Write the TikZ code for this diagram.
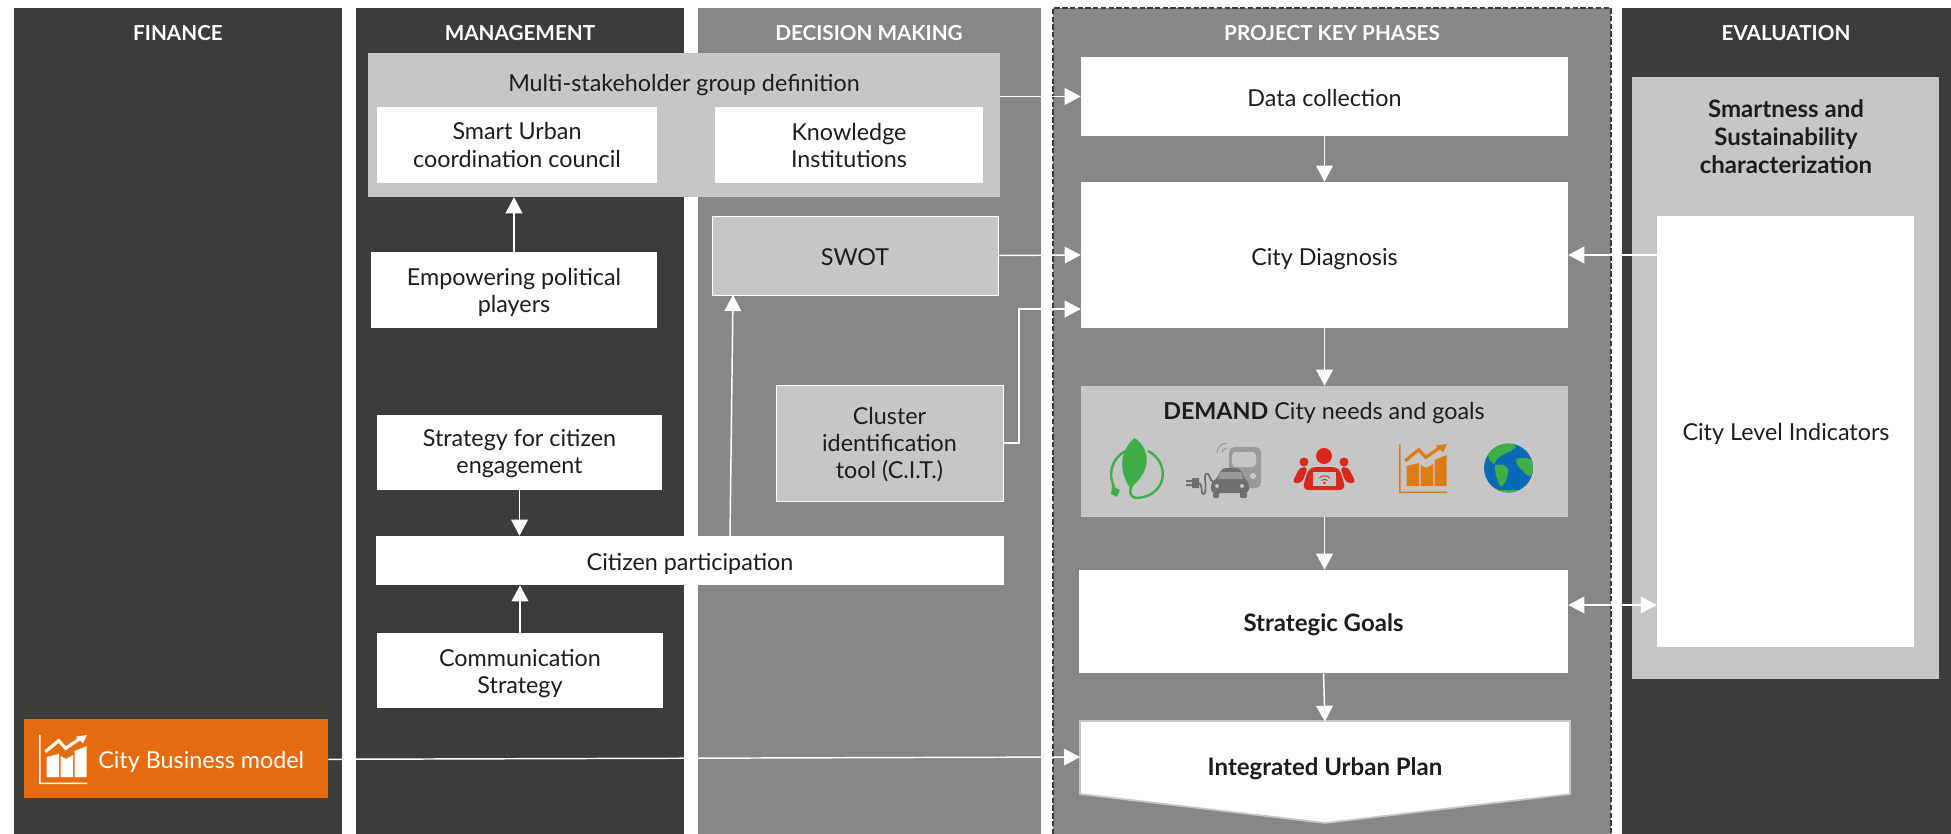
\documentclass[tikz,border=0pt]{standalone}
\usepackage{fontspec}
\setmainfont{Lato}
\usetikzlibrary{arrows.meta,calc}
\definecolor{darkpanel}{HTML}{3C3C3B}
\definecolor{midpanel}{HTML}{878787}
\definecolor{lightpanel}{HTML}{C6C6C6}
\definecolor{bizorange}{HTML}{E56C0E}
\definecolor{inktext}{HTML}{1D1D1B}
\definecolor{leafgreen}{HTML}{3FAE49}
\definecolor{evlight}{HTML}{9A9A9A}
\definecolor{evdark}{HTML}{6F6F6F}
\definecolor{peoplered}{HTML}{D9291C}
\definecolor{chartorange}{HTML}{DD7C14}
\definecolor{globeblue}{HTML}{0A6AB5}
\tikzset{
  bodytext/.style={font=\fontsize{17.5}{20.4}\selectfont,text=inktext,align=center,inner sep=0pt},
  boldtext/.style={bodytext,font=\fontsize{18}{21}\selectfont\bfseries},
  headtext/.style={font=\fontsize{15.5}{18}\selectfont\bfseries,text=white,inner sep=0pt},
  whitebox/.style={fill=white,inner sep=0pt},
  toolbox/.style={fill=lightpanel,draw=white,line width=0.7pt,inner sep=0pt},
  txt/.style 2 args={label={[bodytext,yshift=#1]center:{#2}}},
  txtb/.style 2 args={label={[boldtext,yshift=#1]center:{#2}}},
  flow/.style={draw=white,line width=1.1pt,-{Triangle[length=12pt,width=12.5pt,fill=white]}},
  flowboth/.style={draw=white,line width=1.1pt,{Triangle[length=12pt,width=12.5pt,fill=white]}-{Triangle[length=12pt,width=12.5pt,fill=white]}},
  pics/chart/.style={code={
    \fill[#1] (0,0) rectangle (1.5,49) (0,47.5) rectangle (48,49);
    \fill[#1] (7.7,22) -- (20,19) -- (20,42) -- (7.7,42) -- cycle;
    \fill[#1] (21.7,21) -- (27,24) -- (34,20) -- (34,42) -- (21.7,42) -- cycle;
    \fill[#1] (35.7,16) -- (47.7,11) -- (47.7,42) -- (35.7,42) -- cycle;
    \draw[#1,line width=2.4pt] (6.3,16.7) -- (19.7,5.7) -- (26.7,13.3) -- (40.7,3.8);
    \fill[#1] (48,0) -- (36.7,1.7) -- (44,8.3) -- cycle;
  }}
}
\newcommand{\bx}[6]{\node[#6,minimum width={(#4-#2)*0.75pt},minimum height={(#5-#3)*0.75pt}] (#1) at ({(#2+#4)/2},{(#3+#5)/2}) {};}
\begin{document}
\begin{tikzpicture}[x=0.75pt,y=-0.75pt]
\useasboundingbox (0,0) rectangle (1951,834);
% columns
\fill[darkpanel] (14,8) rectangle (342,834);
\fill[darkpanel] (356,8) rectangle (684,834);
\fill[midpanel] (698,8) rectangle (1041,834);
\fill[midpanel] (1053,8) rectangle (1611,834);
\draw[darkpanel,line width=0.9pt,dash pattern=on 4pt off 1.8pt] (1053,834) -- (1053,8) -- (1611,8) -- (1611,834);
\fill[darkpanel] (1622,8) rectangle (1951,834);
\node[headtext] (hfin) at (178,33) {FINANCE};
\node[headtext] (hman) at (520,33) {MANAGEMENT};
\node[headtext] (hdec) at (869,33) {DECISION MAKING};
\node[headtext] (hpro) at (1332,33) {PROJECT KEY PHASES};
\node[headtext] (heva) at (1786,33) {EVALUATION};
% management / decision boxes
\bx{multi}{368}{53}{1000}{197}{fill=lightpanel}
\node[bodytext] (multit) at (684,85) {Multi-stakeholder group definition};
\bx{smart}{377}{107}{657}{183}{whitebox,txt={0pt}{Smart Urban\\coordination council}}
\bx{know}{715}{107}{983}{183}{whitebox,txt={-0.6pt}{Knowledge\\Institutions}}
\bx{emp}{371}{252}{657}{328}{whitebox,txt={-2pt}{Empowering political\\players}}
\bx{strat}{377}{415}{662}{490}{whitebox,txt={-0.7pt}{Strategy for citizen\\engagement}}
\bx{cit}{376}{536}{1004}{585}{whitebox,txt={-2.7pt}{Citizen participation}}
\bx{comm}{377}{633}{663}{708}{whitebox,txt={-2.4pt}{Communication\\Strategy}}
\bx{swot}{712}{216}{998}{295}{toolbox,txt={-0.9pt}{SWOT}}
\bx{clus}{776}{385}{1003}{501}{toolbox,txt={-1.1pt}{Cluster\\identification\\tool (C.I.T.)}}
% finance
\bx{biz}{24}{719}{328}{798}{fill=bizorange}
\pic at (39,735) {chart=white};
\node[bodytext,text=white,anchor=west] (bizt) at (98,762) {City Business model};
% project phases
\bx{data}{1081}{57}{1568}{136}{whitebox,txt={-0.9pt}{Data collection}}
\bx{diag}{1081}{182}{1568}{328}{whitebox,txt={-3.2pt}{City Diagnosis}}
\bx{dem}{1081}{386}{1568}{517}{fill=lightpanel}
\node[bodytext] (demt) at (1324,413) {\textbf{DEMAND} City needs and goals};
\bx{goal}{1079}{570}{1568}{673}{whitebox,txtb={-2.7pt}{Strategic Goals}}
\fill[white,draw=lightpanel,line width=1.3pt] (1080,721) -- (1570,721) -- (1570,794) -- (1325,823) -- (1080,794) -- cycle;
\bx{iup}{1080}{722}{1570}{808}{txtb={-2.6pt}{Integrated Urban Plan}}
% evaluation
\bx{evalp}{1632}{77}{1939}{679}{fill=lightpanel}
\node[boldtext] (evalt) at (1786,137) {Smartness and\\Sustainability\\characterization};
\bx{cli}{1657}{216}{1914}{647}{whitebox}
\node[bodytext] (clit) at (1786,434) {City Level Indicators};
% demand icons: leaf
\fill[leafgreen] (1134.5,438) .. controls (1149,447) and (1154,470) .. (1130,488) .. controls (1118,470) and (1120,450) .. (1134.5,438) -- cycle;
\draw[leafgreen,line width=1.8pt] (1148,451) .. controls (1170,462) and (1168,495) .. (1138,498) .. controls (1128,498) and (1128,488) .. (1136,480) .. controls (1140,474) and (1138,470) .. (1136,462);
\draw[leafgreen,line width=1.8pt] (1126,451) .. controls (1111,458) and (1108,475) .. (1114,487);
\fill[leafgreen] (1112,486) -- (1120,490) -- (1117,497) -- (1111,494) -- cycle;
% demand icons: electric vehicles
\fill[evlight,rounded corners=4pt] (1229,447) rectangle (1261,488);
\fill[lightpanel,rounded corners=3pt] (1232,452) rectangle (1256,467);
\fill[lightpanel] (1253,476) circle (3);
\draw[evlight,line width=0.8pt] (1217,453) arc (180:270:10);
\draw[evlight,line width=0.8pt] (1222,453) arc (180:270:5);
\fill[evdark,rounded corners=3pt] (1222,468) -- (1240,468) -- (1245,480) -- (1249,482) -- (1249,493) -- (1211,493) -- (1211,482) -- (1216,480) -- cycle;
\fill[evlight] (1220,472) -- (1241,472) -- (1243,479) -- (1218,479) -- cycle;
\fill[evdark,rounded corners=1pt] (1213,492) rectangle (1219,498) (1240,492) rectangle (1247,498);
\fill[lightpanel] (1217,486) circle (2) (1242,486) circle (2);
\draw[evdark,line width=1.3pt] (1198,483) .. controls (1204,483) and (1200,497) .. (1204,494) .. controls (1208,490) and (1203,475) .. (1206,474) .. controls (1210,472) and (1209,480) .. (1213,482);
\fill[evdark] (1192,478) rectangle (1199,488) (1186,480) rectangle (1192,482) (1186,484) rectangle (1192,486);
% demand icons: people
\fill[peoplered] (1324,456) circle (8) (1304,462) circle (4.5) (1344,462) circle (4.5);
\fill[peoplered,rounded corners=3pt] (1292,483) -- (1300,467) -- (1308,467) -- (1302,483) -- cycle;
\fill[peoplered,rounded corners=3pt] (1356,483) -- (1348,467) -- (1340,467) -- (1346,483) -- cycle;
\fill[peoplered,rounded corners=5pt] (1309,467) -- (1339,467) -- (1346,490) -- (1302,490) -- cycle;
\fill[lightpanel] (1313,472) rectangle (1336,486);
\draw[peoplered,line width=0.7pt] (1319.2,478) arc (-135:-45:7.5) (1321.5,480.5) arc (-135:-45:4.2);
\fill[peoplered] (1324.5,483) circle (1.3);
% demand icons: chart and globe
\pic at (1399,444) {chart=chartorange};
\fill[globeblue] (1508.5,468) circle (24.5);
\begin{scope}
\clip (1508.5,468) circle (24.5);
\fill[leafgreen] (1490,445) .. controls (1500,440) and (1512,441) .. (1516,447) .. controls (1508,455) and (1500,452) .. (1494,464) .. controls (1488,462) and (1486,452) .. (1490,445) -- cycle;
\fill[leafgreen] (1495,465) .. controls (1505,463) and (1510,468) .. (1508,474) .. controls (1506,482) and (1502,488) .. (1500,486) .. controls (1497,478) and (1494,472) .. (1495,465) -- cycle;
\fill[leafgreen] (1516,459) .. controls (1524,456) and (1536,458) .. (1535,468) .. controls (1532,478) and (1528,478) .. (1524,472) .. controls (1520,468) and (1516,466) .. (1516,459) -- cycle;
\fill[leafgreen] (1492,490) -- (1525,490) -- (1525,495) -- (1492,495) -- cycle;
\end{scope}
% connectors
\draw[flow] (multi.east |- data.west) -- (data.west);
\draw[flow] (swot.east) -- (diag.west);
\coordinate (cbend) at (1019,443);
\coordinate (ctop) at (1019,309);
\draw[flow] (clus.east) -- (cbend) -- (ctop) -- (ctop -| diag.west);
\draw[flow] (data.south) -- (diag.north);
\draw[flow] (diag.south) -- (dem.north -| diag.south);
\draw[flow] (dem.south -| diag.south) -- (goal.north -| diag.south);
\draw[flow] (goal.south) -- (iup.north);
\draw[flow] (cli.west |- diag.east) -- (diag.east);
\coordinate (gy) at (1600,605);
\draw[flowboth] (gy -| goal.east) -- (gy -| cli.west);
\draw[flow] (emp.north) -- (emp.north |- multi.south);
\draw[flow] (strat.south) -- (strat.south |- cit.north);
\draw[flow] (comm.north) -- (comm.north |- cit.south);
\coordinate (csw) at (730,536);
\coordinate (swb) at (733,295);
\draw[flow] (csw) -- (swb);
\coordinate (izone) at (1080,757);
\draw[flow] (biz.east) ++(0,-0.6pt) -- (izone);
\end{tikzpicture}
\end{document}
